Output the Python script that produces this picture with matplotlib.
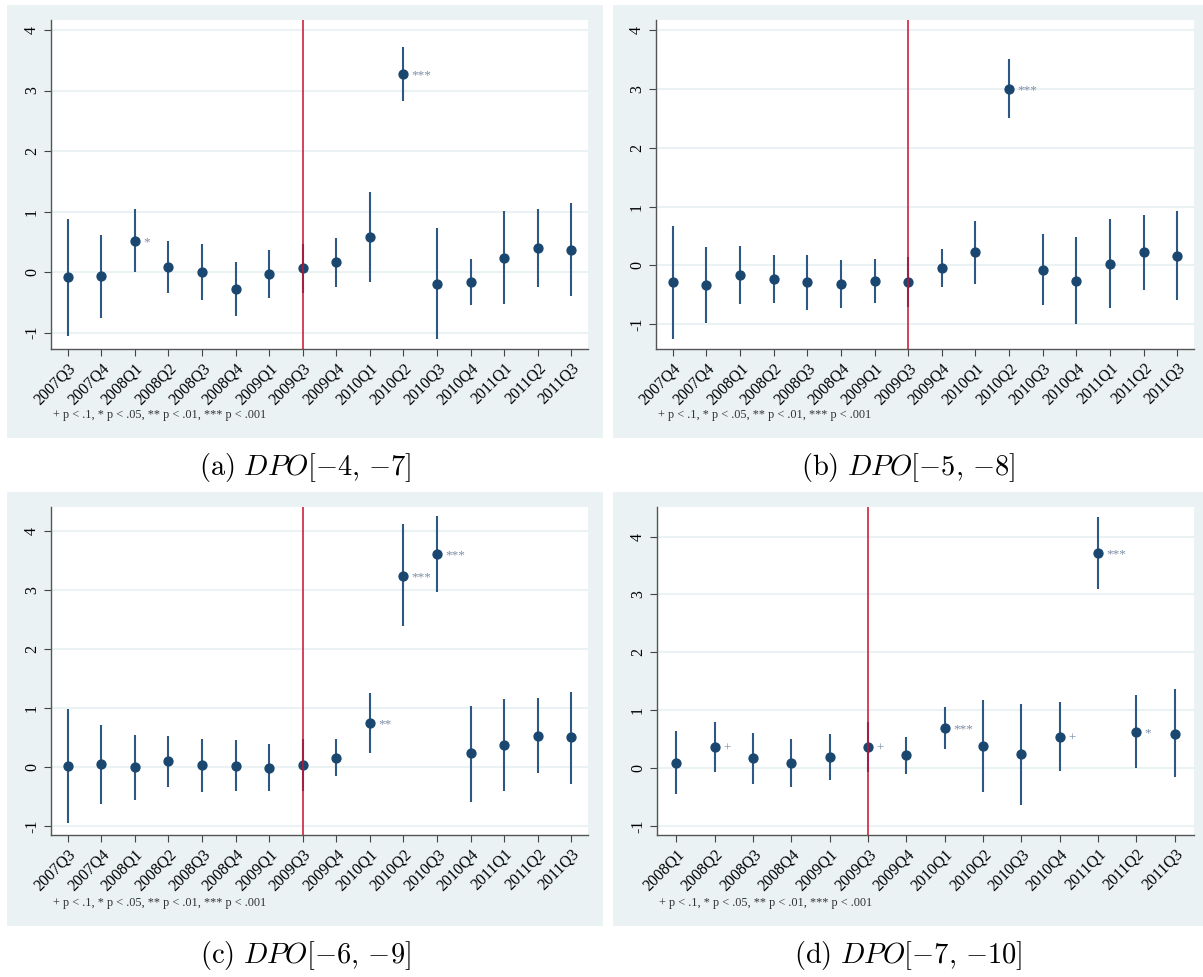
import matplotlib
matplotlib.use("Agg")
import matplotlib.pyplot as plt
from matplotlib.patches import Rectangle
import numpy as np

plt.rcParams['font.family'] = ['Liberation Serif', 'DejaVu Serif']
plt.rcParams['mathtext.fontset'] = 'cm'

W, H = 1203, 977

# panel (a) DPO[-4,-7]
labels_a = ['2007Q3', '2007Q4', '2008Q1', '2008Q2', '2008Q3', '2008Q4', '2009Q1', '2009Q3',
            '2009Q4', '2010Q1', '2010Q2', '2010Q3', '2010Q4', '2011Q1', '2011Q2', '2011Q3']
coef_a = [-0.08, -0.07, 0.52, 0.09, 0.005, -0.28, -0.03, 0.06, 0.16, 0.58, 3.27, -0.19, -0.16, 0.24, 0.40, 0.36]
hi_a = [0.88, 0.61, 1.035, 0.52, 0.47, 0.16, 0.37, 0.46, 0.56, 1.32, 3.72, 0.73, 0.22, 1.01, 1.05, 1.145]
lo_a = [-1.05, -0.75, 0.005, -0.35, -0.46, -0.73, -0.43, -0.35, -0.24, -0.16, 2.82, -1.10, -0.54, -0.53, -0.25, -0.40]
stars_a = ['', '', '*', '', '', '', '', '', '', '', '***', '', '', '', '', '']

# panel (b) DPO[-5,-8]
labels_b = ['2007Q4', '2007Q4', '2008Q1', '2008Q2', '2008Q3', '2008Q4', '2009Q1', '2009Q3',
            '2009Q4', '2010Q1', '2010Q2', '2010Q3', '2010Q4', '2011Q1', '2011Q2', '2011Q3']
coef_b = [-0.29, -0.33, -0.16, -0.23, -0.29, -0.32, -0.27, -0.28, -0.05, 0.23, 3.00, -0.07, -0.26, 0.03, 0.22, 0.16]
hi_b = [0.67, 0.32, 0.33, 0.18, 0.17, 0.09, 0.11, 0.15, 0.28, 0.76, 3.50, 0.54, 0.48, 0.79, 0.86, 0.92]
lo_b = [-1.25, -0.98, -0.66, -0.64, -0.75, -0.72, -0.63, -0.70, -0.37, -0.31, 2.50, -0.68, -0.99, -0.72, -0.41, -0.59]
stars_b = ['', '', '', '', '', '', '', '', '', '', '***', '', '', '', '', '']

# panel (c) DPO[-6,-9]
labels_c = labels_a
coef_c = [0.02, 0.05, 0.0, 0.10, 0.03, 0.02, -0.01, 0.03, 0.15, 0.74, 3.24, 3.60, 0.23, 0.37, 0.53, 0.50]
hi_c = [0.98, 0.71, 0.55, 0.53, 0.47, 0.45, 0.39, 0.47, 0.47, 1.25, 4.11, 4.24, 1.04, 1.15, 1.17, 1.27]
lo_c = [-0.94, -0.62, -0.56, -0.33, -0.42, -0.41, -0.40, -0.41, -0.16, 0.24, 2.39, 2.97, -0.59, -0.41, -0.10, -0.28]
stars_c = ['', '', '', '', '', '', '', '', '', '**', '***', '***', '', '', '', '']

# panel (d) DPO[-7,-10]
labels_d = ['2008Q1', '2008Q2', '2008Q3', '2008Q4', '2009Q1', '2009Q3', '2009Q4',
            '2010Q1', '2010Q2', '2010Q3', '2010Q4', '2011Q1', '2011Q2', '2011Q3']
coef_d = [0.09, 0.36, 0.17, 0.08, 0.20, 0.36, 0.22, 0.69, 0.38, 0.24, 0.54, 3.72, 0.63, 0.59]
hi_d = [0.64, 0.79, 0.60, 0.50, 0.59, 0.80, 0.54, 1.05, 1.18, 1.11, 1.14, 4.34, 1.26, 1.37]
lo_d = [-0.455, -0.06, -0.27, -0.33, -0.20, -0.06, -0.10, 0.33, -0.42, -0.63, -0.05, 3.10, 0.0, -0.16]
stars_d = ['', '+', '', '', '', '+', '', '***', '', '', '+', '***', '*', '']

captions = [r'$\mathrm{(a)}\ DPO[-4,\,{-}7]$', r'$\mathrm{(b)}\ DPO[-5,\,{-}8]$',
            r'$\mathrm{(c)}\ DPO[-6,\,{-}9]$', r'$\mathrm{(d)}\ DPO[-7,\,{-}10]$']
note = '+ p < .1, * p < .05, ** p < .01, *** p < .001'

BG = '#eaf2f3'
NAVY = '#1a476f'
CI = '#2e5884'
RED = '#c8102e'
STAR = '#7d8ea6'

fig = plt.figure(figsize=(W / 100, H / 100), dpi=100)


def rect(x0, y0, x1, y1):
    return [x0 / W, 1 - y1 / H, (x1 - x0) / W, (y1 - y0) / H]


panels = [
    (labels_a, coef_a, lo_a, hi_a, stars_a, (7, 5, 603, 438), (51, 20, 588, 349), (-1.27, 4.165)),
    (labels_b, coef_b, lo_b, hi_b, stars_b, (613, 5, 1203, 438), (656, 20, 1194, 349), (-1.42, 4.17)),
    (labels_c, coef_c, lo_c, hi_c, stars_c, (7, 492, 603, 926), (51, 507, 588, 835), (-1.15, 4.40)),
    (labels_d, coef_d, lo_d, hi_d, stars_d, (613, 492, 1203, 926), (657, 507, 1194, 835), (-1.155, 4.51)),
]

for k, (labels, coef, lo, hi, stars, bg, box, ylim) in enumerate(panels):
    bx0, by0, bx1, by1 = bg
    fig.patches.append(Rectangle((bx0 / W, 1 - by1 / H), (bx1 - bx0) / W, (by1 - by0) / H,
                                 transform=fig.transFigure, facecolor=BG, edgecolor='none', zorder=-5))
    ax = fig.add_axes(rect(*box))
    ax.set_zorder(2)
    ax.set_facecolor('white')
    x = np.arange(1, len(labels) + 1)
    for yv in range(-1, 5):
        ax.axhline(yv, color=BG, lw=1.5, zorder=1)
    ax.vlines(x, lo, hi, color=CI, lw=1.5, zorder=2)
    ax.plot(x, coef, 'o', color=NAVY, ms=6.4, zorder=3)
    ref = labels.index('2009Q3') + 1
    ax.axvline(ref, color=RED, lw=1.1, zorder=4)
    for xi, c, s in zip(x, coef, stars):
        if s:
            ax.annotate(s, (xi, c), xytext=(6, -1), textcoords='offset points',
                        fontsize=9.5, color=STAR, va='center', ha='left')
    ax.set_xlim(0.5, len(labels) + 0.5)
    ax.set_ylim(*ylim)
    ax.set_xticks(x)
    ax.set_xticklabels(labels, rotation=45, ha='right', rotation_mode='anchor', fontsize=11.5)
    ax.set_yticks(range(-1, 5))
    ax.set_yticklabels([str(v) for v in range(-1, 5)], rotation=90, va='center', fontsize=11.5)
    ax.tick_params(axis='both', length=5, width=0.8, color='#444444', pad=3)
    for sp in ['top', 'right']:
        ax.spines[sp].set_visible(False)
    for sp in ['left', 'bottom']:
        ax.spines[sp].set_color('#555555')
        ax.spines[sp].set_linewidth(1.0)
    fig.text((box[0] + 2) / W, 1 - (by1 - 23) / H, note, fontsize=8.8, color='#333333',
             va='center', ha='left', zorder=3)
    fig.text((bx0 + bx1) / 2 / W, 1 - (by1 + 30) / H, captions[k], fontsize=20.5,
             ha='center', va='center')

fig.savefig('out.png', dpi=100, facecolor='white')
